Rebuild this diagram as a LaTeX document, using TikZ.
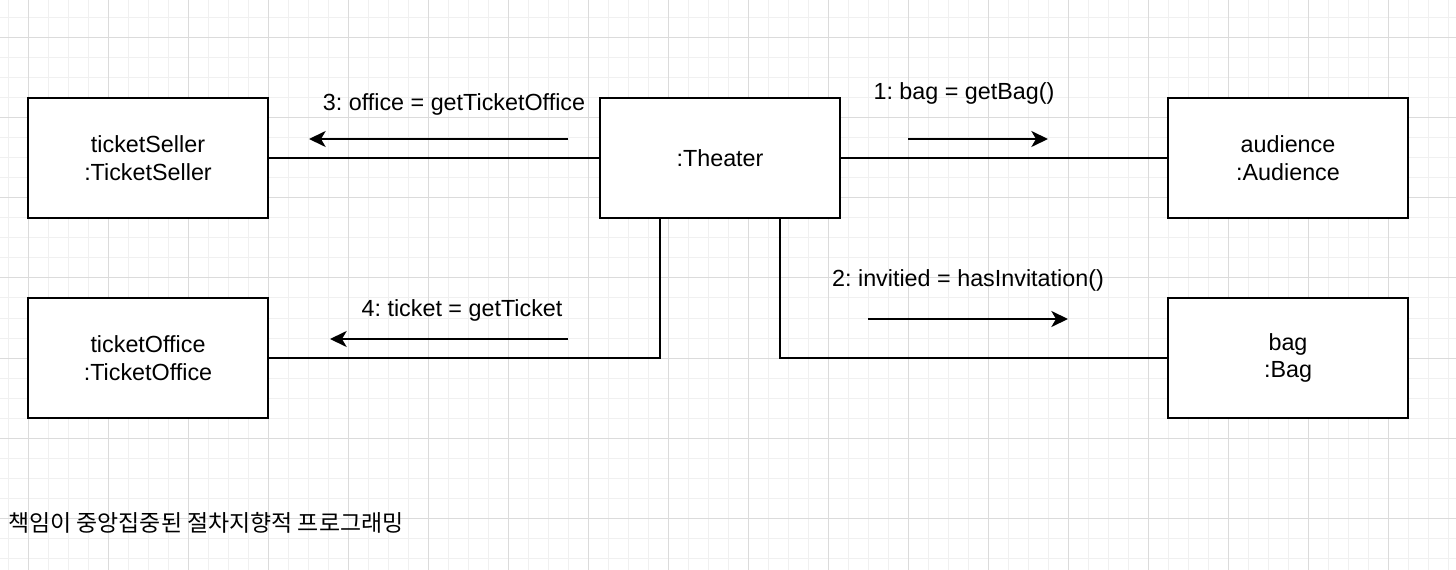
\documentclass[tikz,border=0pt]{standalone}
\usepackage{fontspec}
\setmainfont{Liberation Sans}
\newfontfamily\krfont{Noto Sans CJK KR}
\usetikzlibrary{arrows.meta}
\frenchspacing
\begin{document}
\begin{tikzpicture}[x=0.75pt,y=-0.75pt,
  minorgrid/.style={draw=black!6,line width=0.75pt},
  majorgrid/.style={draw=black!14,line width=0.75pt},
  obj/.style={draw,line width=1.5pt,minimum width=180pt,minimum height=90pt,align=center,inner sep=0pt,font=\fontsize{17.5}{20.5}\selectfont},
  link/.style={line width=1.5pt},
  msg/.style={line width=1.5pt,-{Stealth[length=12.5pt,width=12pt,inset=3.5pt]}},
  lbl/.style={inner sep=0pt,font=\fontsize{17.5}{20.5}\selectfont}]
\useasboundingbox (0,0) rectangle (1456,570);
\fill[white] (0,0) rectangle (1456,570);
\foreach \x in {8,28,...,1448} \draw[minorgrid] (\x,0) -- (\x,570);
\foreach \y in {18,38,...,558} \draw[minorgrid] (0,\y) -- (1456,\y);
\foreach \x in {28,108,...,1448} \draw[majorgrid] (\x,0) -- (\x,570);
\foreach \y in {38,118,...,558} \draw[majorgrid] (0,\y) -- (1456,\y);

\node[obj,fill=white] (ts) at (148,158) {ticketSeller\\:TicketSeller};
\node[obj,fill=white] (th) at (720,158) {:Theater};
\node[obj,fill=white] (au) at (1288,158) {audience\\:Audience};
\node[obj,fill=white] (to) at (148,358) {ticketOffice\\:TicketOffice};
\node[obj,fill=white] (bg) at (1288,358) {bag\\:Bag};

\draw[link] (ts.east) -- (th.west);
\draw[link] (th.east) -- (au.west);
\draw[link] ([xshift=-45pt]th.south) |- (to.east);
\draw[link] ([xshift=45pt]th.south) |- (bg.west);

\coordinate (a3s) at (568,139); \coordinate (a3e) at (309,139);
\coordinate (a1s) at (908,139); \coordinate (a1e) at (1048,139);
\coordinate (a4s) at (568,339); \coordinate (a4e) at (330,339);
\coordinate (a2s) at (868,319); \coordinate (a2e) at (1068,319);
\draw[msg] (a3s) -- (a3e);
\draw[msg] (a1s) -- (a1e);
\draw[msg] (a4s) -- (a4e);
\draw[msg] (a2s) -- (a2e);

\node[lbl] (l3) at (454,104) {3: office = getTicketOffice};
\node[lbl] (l1) at (964,93) {1: bag = getBag()};
\node[lbl] (l4) at (462,310) {4: ticket = getTicket};
\node[lbl] (l2) at (968,280) {2: invitied = hasInvitation()};
\node[lbl,anchor=west,font=\krfont\fontsize{17.2}{21}\selectfont] (cap) at (8,523) {책임이 중앙집중된 절차지향적 프로그래밍};
\end{tikzpicture}
\end{document}
